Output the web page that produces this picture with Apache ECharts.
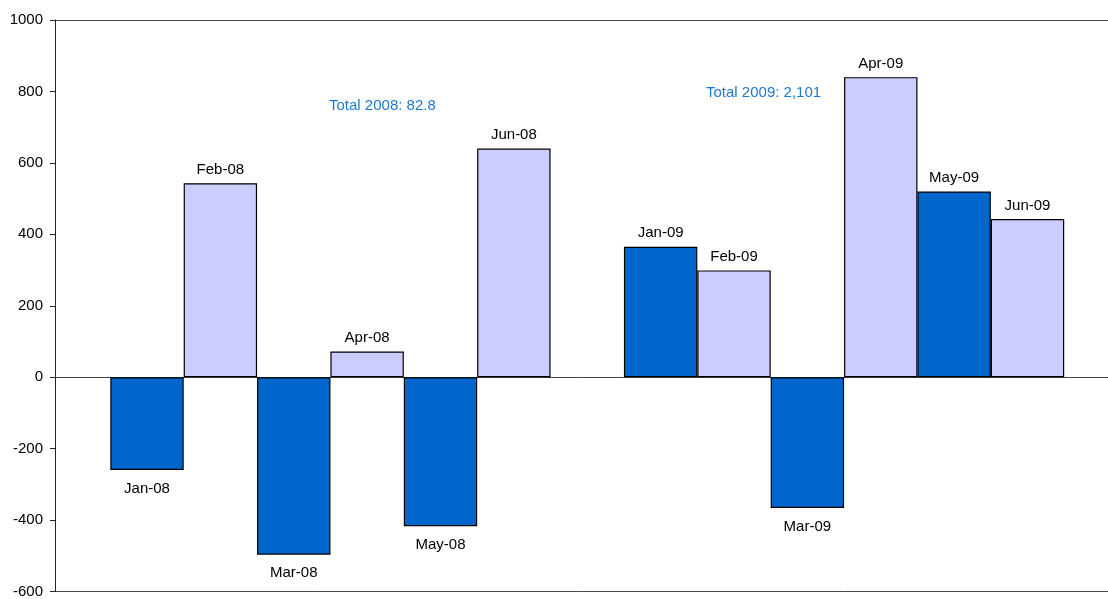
<!DOCTYPE html>
<html>
<head>
<meta charset="utf-8">
<script src="https://cdn.jsdelivr.net/npm/echarts@6/dist/echarts.min.js"></script>
<style>
  html, body { margin: 0; padding: 0; background: #fff; }
  #chart { width: 1108px; height: 599px; }
</style>
</head>
<body>
<div id="chart"></div>
<script>
// months shown on the bars
const months2008 = ['Jan-08', 'Feb-08', 'Mar-08', 'Apr-08', 'May-08', 'Jun-08']
const months2009 = ['Jan-09', 'Feb-09', 'Mar-09', 'Apr-09', 'May-09', 'Jun-09']
// monthly values
const values2008 = [-260, 543, -497, 72, -417, 640]
const values2009 = [365, 299, -366, 840, 520, 443]
// text of the two totals
const totalLabels = ['Total 2008: 82.8', 'Total 2009: 2,101']
// y axis ticks
const yTicks = [-600, -400, -200, 0, 200, 400, 600, 800, 1000]

const dark = '#0066CC'
const light = '#CCCCFF'

// slot on the x axis: one empty slot between the two years
const buildItems = (names, vals, start) => names.map((n, i) => ({
  name: n,
  value: [start + i, vals[i]],
  itemStyle: { color: i % 2 === 0 ? dark : light },
  label: { position: vals[i] < 0 ? 'bottom' : 'top', distance: vals[i] < 0 ? 11 : 6 }
}))
const items = buildItems(months2008, values2008, 1).concat(buildItems(months2009, values2009, 8))

// only the bottom (-600) and top (1000) lines of the frame are drawn
const frameColors = yTicks.map((t, i) => (i === 0 || i === yTicks.length - 1) ? '#444' : 'rgba(0,0,0,0)')

const myChart = echarts.init(document.getElementById('chart'))
myChart.setOption({
  animation: false,
  textStyle: { fontFamily: 'Liberation Sans, Arial, sans-serif' },
  grid: { left: 55, right: 0, top: 20, bottom: 7 },
  xAxis: {
    type: 'value',
    min: -0.2538,
    max: 14.097,
    axisLine: { show: true, onZero: true, lineStyle: { color: '#444', width: 1 } },
    axisTick: { show: false },
    axisLabel: { show: false },
    splitLine: { show: false }
  },
  yAxis: {
    type: 'value',
    min: yTicks[0],
    max: yTicks[yTicks.length - 1],
    interval: yTicks[1] - yTicks[0],
    axisLine: { show: true, onZero: false, lineStyle: { color: '#222', width: 1 } },
    axisTick: { show: true, length: 5, lineStyle: { color: '#222' } },
    axisLabel: { margin: 12, color: '#000', fontSize: 15, formatter: v => String(v) },
    splitLine: { show: true, lineStyle: { color: frameColors, width: 1 } }
  },
  series: [
    {
      type: 'bar',
      barWidth: 73.4,
      data: items,
      itemStyle: { borderColor: '#000', borderWidth: 1.2 },
      label: {
        show: true,
        color: '#000',
        fontSize: 15,
        formatter: p => p.name
      }
    }
  ],
  graphic: [
    { type: 'text', left: 329, top: 98, style: { text: totalLabels[0], fill: '#1E78D2', fontSize: 15, fontFamily: 'Liberation Sans, Arial, sans-serif' } },
    { type: 'text', left: 706, top: 85, style: { text: totalLabels[1], fill: '#1E78D2', fontSize: 15, fontFamily: 'Liberation Sans, Arial, sans-serif' } }
  ]
})
</script>
</body>
</html>
